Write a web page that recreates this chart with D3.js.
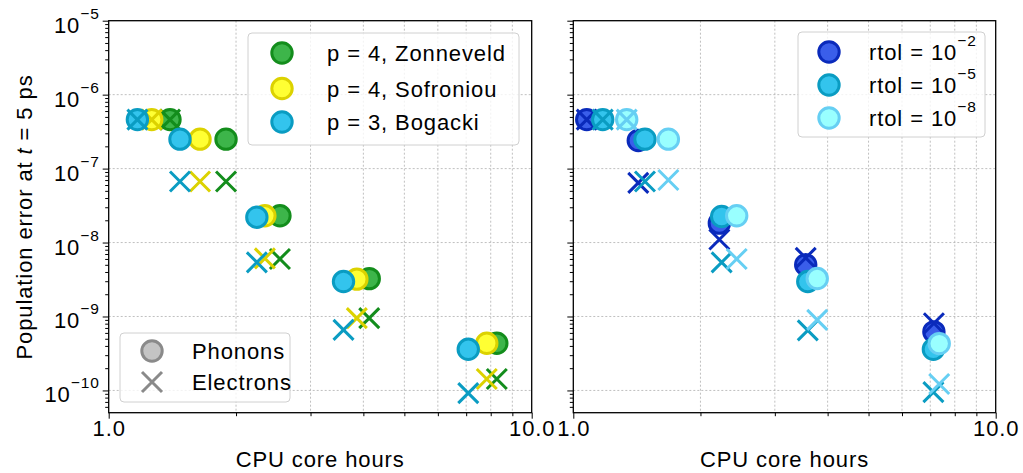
<!DOCTYPE html>
<html>
<head>
<meta charset="utf-8">
<script src="https://cdn.jsdelivr.net/npm/d3@7"></script>
<style>
  body { margin: 0; background: #fff; }
  text { font-family: "Liberation Sans", Arial, sans-serif; }
</style>
</head>
<body>
<svg id="chart" width="1023" height="473"></svg>
<script>
// ---- data ----
// left panel: integration schemes
const zonnHours = [1.396, 1.894, 2.54, 4.13, 8.27];
const zonnPhonons = [4.6e-7, 2.5e-7, 2.3e-8, 3.25e-9, 4.35e-10];
const zonnElectrons = [4.6e-7, 6.7e-8, 6.0e-9, 9.5e-10, 1.43e-10];

const sofrHours = [1.264, 1.644, 2.34, 3.86, 7.83];
const sofrPhonons = [4.6e-7, 2.5e-7, 2.3e-8, 3.2e-9, 4.35e-10];
const sofrElectrons = [4.6e-7, 6.7e-8, 6.1e-9, 9.5e-10, 1.43e-10];

const bogHours = [1.169, 1.474, 2.24, 3.59, 7.08];
const bogPhonons = [4.6e-7, 2.5e-7, 2.2e-8, 2.97e-9, 3.6e-10];
const bogElectrons = [4.6e-7, 6.7e-8, 5.4e-9, 6.6e-10, 9.2e-11];

// right panel: tolerances
const rtol2Hours = [1.076, 1.425, 2.217, 3.55, 7.14];
const rtol2Phonons = [4.6e-7, 2.4e-7, 1.83e-8, 5.0e-9, 6.2e-10];
const rtol2Electrons = [4.6e-7, 6.4e-8, 1.1e-8, 6.2e-9, 8.1e-10];

const rtol5Hours = [1.174, 1.478, 2.245, 3.59, 7.12];
const rtol5Phonons = [4.6e-7, 2.5e-7, 2.25e-8, 2.97e-9, 3.6e-10];
const rtol5Electrons = [4.6e-7, 6.7e-8, 5.4e-9, 6.5e-10, 9.5e-11];

const rtol8Hours = [1.338, 1.679, 2.437, 3.78, 7.35];
const rtol8Phonons = [4.6e-7, 2.5e-7, 2.3e-8, 3.26e-9, 4.3e-10];
const rtol8Electrons = [4.6e-7, 7.0e-8, 6.0e-9, 9.0e-10, 1.22e-10];

const methodLabels = ["p = 4, Zonneveld", "p = 4, Sofroniou", "p = 3, Bogacki"];
const rtolExponents = [-2, -5, -8];
const kindLabels = ["Phonons", "Electrons"];

const xTicks = [1, 10];
const xMinor = [2, 3, 4, 5, 6, 7, 8, 9];
const yTicks = [1e-10, 1e-9, 1e-8, 1e-7, 1e-6, 1e-5];

// ---- layout ----
const plotTop = 20.7, plotBottom = 412.7;
const fontSize = 22;
const spacing = "0.9px";

const svg = d3.select("#chart");
const y = d3.scaleLog().domain([5e-11, 1e-5]).range([plotBottom, plotTop]);

let yMinor = [];
for (let e = -11; e < -5; e++) {
    for (let m = 2; m <= 9; m++) {
        const v = m * Math.pow(10, e);
        if (v >= 5e-11 && v <= 1e-5) yMinor.push(v);
    }
}

const leftSeries = [
    {hours: zonnHours, ph: zonnPhonons, el: zonnElectrons, fill: "#3db54a", edge: "#138d1c"},
    {hours: sofrHours, ph: sofrPhonons, el: sofrElectrons, fill: "#ffff33", edge: "#dcd200"},
    {hours: bogHours, ph: bogPhonons, el: bogElectrons, fill: "#33c4ed", edge: "#0a9cc2"}
];
const rightSeries = [
    {hours: rtol2Hours, ph: rtol2Phonons, el: rtol2Electrons, fill: "#3a5eea", edge: "#0a2abb"},
    {hours: rtol5Hours, ph: rtol5Phonons, el: rtol5Electrons, fill: "#33c4ed", edge: "#0a9cc2"},
    {hours: rtol8Hours, ph: rtol8Phonons, el: rtol8Electrons, fill: "#99ffff", edge: "#66cff3"}
];

const R = 10.2, XS = 10;

function crossPath(cx, cy) {
    return "M" + (cx - XS) + "," + (cy - XS) + "L" + (cx + XS) + "," + (cy + XS) +
        "M" + (cx - XS) + "," + (cy + XS) + "L" + (cx + XS) + "," + (cy - XS);
}

function supLabel(sel, base, exp, baseSize, supSize) {
    sel.append("tspan").text(base).attr("font-size", baseSize);
    sel.append("tspan").text("\u2212" + Math.abs(exp))
        .attr("font-size", supSize).attr("dy", -14);
}

function drawPanel(x0, x1, series, showYLabels) {
    const x = d3.scaleLog().domain([1, 10]).range([x0, x1]);
    const g = svg.append("g");

    // grid
    g.selectAll(".vgrid").data(xMinor).enter().append("line")
        .attr("x1", d => x(d)).attr("x2", d => x(d))
        .attr("y1", plotTop).attr("y2", plotBottom)
        .attr("stroke", "#b0b0b0").attr("stroke-width", 0.8)
        .attr("stroke-dasharray", "2,2");
    g.selectAll(".hgrid").data(yTicks.slice(0, 5)).enter().append("line")
        .attr("x1", x0).attr("x2", x1)
        .attr("y1", d => y(d)).attr("y2", d => y(d))
        .attr("stroke", "#b0b0b0").attr("stroke-width", 0.8)
        .attr("stroke-dasharray", "2,2");

    // x axis
    const xa = g.append("g").attr("transform", "translate(0," + plotBottom + ")");
    xa.append("g").call(d3.axisBottom(x).tickValues(xMinor).tickFormat("").tickSize(3.5).tickSizeOuter(0));
    xa.append("g").call(d3.axisBottom(x).tickValues(xTicks).tickFormat(d3.format(".1f"))
        .tickSize(6).tickSizeOuter(0).tickPadding(2));
    xa.selectAll(".tick text").attr("font-size", fontSize).attr("fill", "#000")
        .style("letter-spacing", spacing).attr("font-family", null);

    // y axis
    const ya = g.append("g").attr("transform", "translate(" + x0 + ",0)");
    ya.append("g").call(d3.axisLeft(y).tickValues(yTicks).tickFormat("").tickSize(6).tickSizeOuter(0));
    ya.append("g").call(d3.axisLeft(y).tickValues(yMinor).tickFormat("").tickSize(3.5).tickSizeOuter(0));
    if (showYLabels) {
        ya.selectAll(".ylab").data(yTicks).enter().append("text")
            .attr("x", -9).attr("y", d => y(d) + 12)
            .attr("text-anchor", "end").style("letter-spacing", spacing)
            .each(function (d) {
                supLabel(d3.select(this), "10", Math.round(Math.log10(d)), fontSize, 15.5);
            });
    }
    g.selectAll(".domain").remove();
    g.selectAll(".tick line").attr("stroke", "#000").attr("stroke-width", 1);

    // frame
    g.append("rect").attr("x", x0).attr("y", plotTop)
        .attr("width", x1 - x0).attr("height", plotBottom - plotTop)
        .attr("fill", "none").attr("stroke", "#000").attr("stroke-width", 1.3);

    // x label
    g.append("text").attr("x", (x0 + x1) / 2).attr("y", 466.7)
        .attr("text-anchor", "middle").attr("font-size", fontSize)
        .style("letter-spacing", spacing).text("CPU core hours");

    // points
    series.forEach(function (s) {
        const pts = s.hours.map((h, i) => ({h: h, ph: s.ph[i], el: s.el[i]}));
        g.selectAll(null).data(pts).enter().append("circle")
            .attr("cx", d => x(d.h)).attr("cy", d => y(d.ph)).attr("r", R)
            .attr("fill", s.fill).attr("stroke", s.edge).attr("stroke-width", 3);
        g.selectAll(null).data(pts).enter().append("path")
            .attr("d", d => crossPath(x(d.h), y(d.el)))
            .attr("fill", "none").attr("stroke", s.edge).attr("stroke-width", 3);
    });
    return g;
}

function legendBox(g, bx, by, bw, bh) {
    g.append("rect").attr("x", bx).attr("y", by).attr("width", bw).attr("height", bh)
        .attr("rx", 4).attr("fill", "#fff").attr("fill-opacity", 0.8)
        .attr("stroke", "#d0d0d0").attr("stroke-width", 1);
}

const gl = drawPanel(108.7, 531.7, leftSeries, true);
const gr = drawPanel(573.3, 995.7, rightSeries, false);

// y label
svg.append("text").attr("transform", "translate(32,217) rotate(-90)")
    .attr("text-anchor", "middle").attr("font-size", fontSize)
    .style("letter-spacing", spacing)
    .call(t => {
        t.append("tspan").text("Population error at ");
        t.append("tspan").attr("font-style", "italic").text("t");
        t.append("tspan").text(" = 5 ps");
    });

// left legend (methods)
legendBox(gl, 248, 33, 271, 112);
const legRowsL = [53, 88.5, 122];
leftSeries.forEach(function (s, i) {
    gl.append("circle").attr("cx", 282).attr("cy", legRowsL[i]).attr("r", R)
        .attr("fill", s.fill).attr("stroke", s.edge).attr("stroke-width", 3);
    gl.append("text").attr("x", 327).attr("y", legRowsL[i] + 8)
        .attr("font-size", fontSize).style("letter-spacing", spacing)
        .text(methodLabels[i]);
});

// bottom legend (kinds)
legendBox(gl, 120, 333, 170, 69);
gl.append("circle").attr("cx", 152).attr("cy", 351).attr("r", R)
    .attr("fill", "#c4c4c4").attr("stroke", "#8a8a8a").attr("stroke-width", 3);
gl.append("path").attr("d", crossPath(152, 382))
    .attr("fill", "none").attr("stroke", "#8a8a8a").attr("stroke-width", 3);
[351, 382].forEach(function (yy, i) {
    gl.append("text").attr("x", 192).attr("y", yy + 8)
        .attr("font-size", fontSize).style("letter-spacing", spacing)
        .text(kindLabels[i]);
});

// right legend (rtol)
legendBox(gr, 798, 32, 187, 105);
const legRowsR = [52, 85, 118];
rightSeries.forEach(function (s, i) {
    gr.append("circle").attr("cx", 829).attr("cy", legRowsR[i]).attr("r", R)
        .attr("fill", s.fill).attr("stroke", s.edge).attr("stroke-width", 3);
    const t = gr.append("text").attr("x", 869).attr("y", legRowsR[i] + 8)
        .style("letter-spacing", spacing);
    t.append("tspan").attr("font-size", fontSize).text("rtol = ");
    supLabel(t, "10", rtolExponents[i], fontSize, 15.5);
});
</script>
</body>
</html>
